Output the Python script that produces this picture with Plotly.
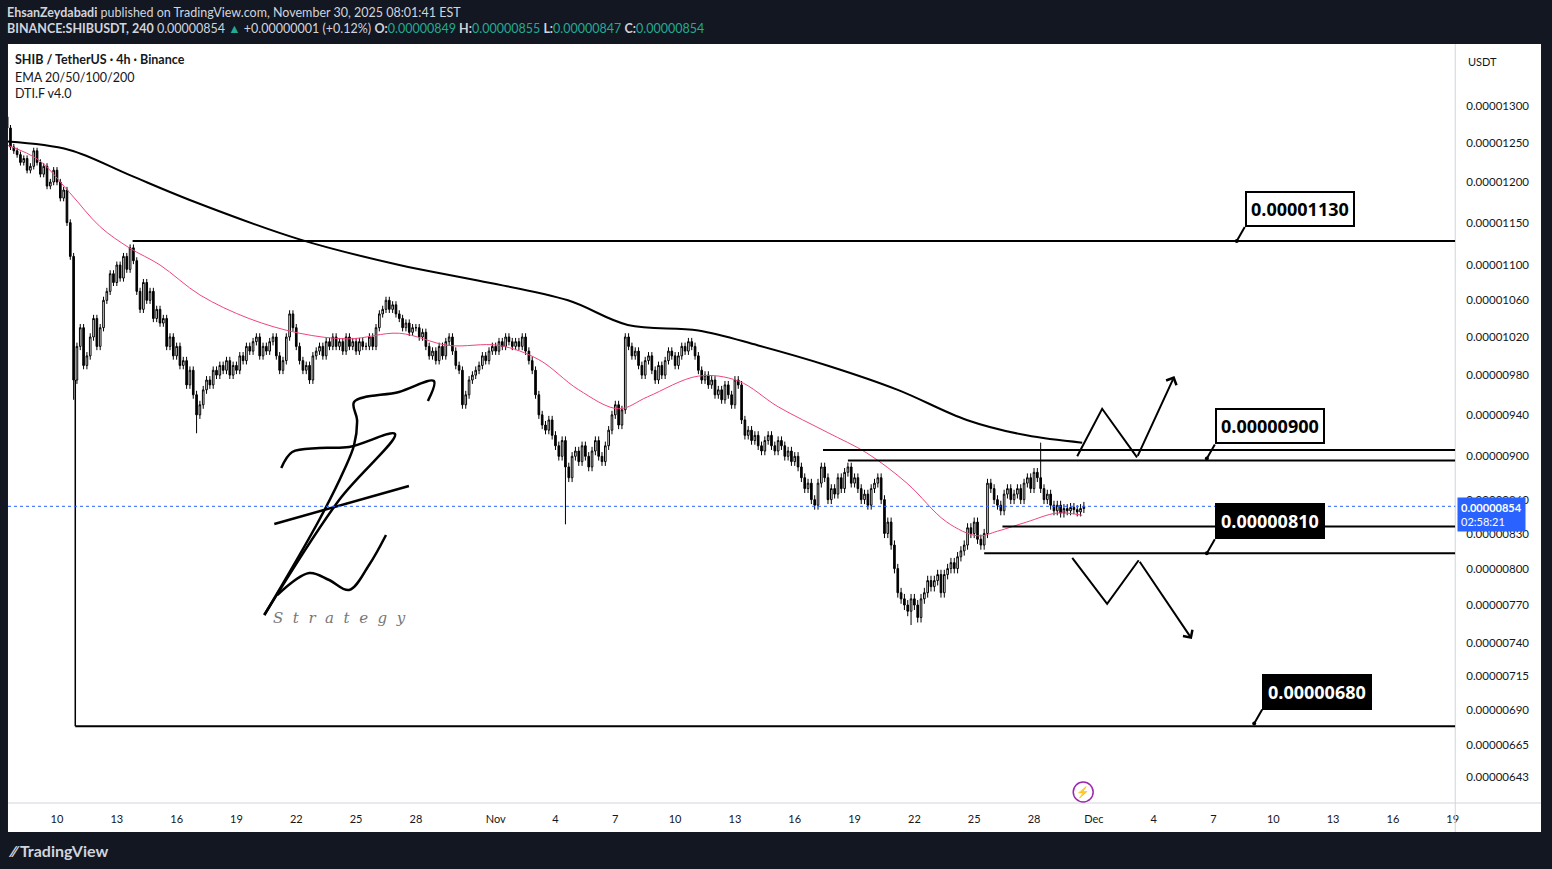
import plotly.graph_objects as go
import pandas as pd
import math

# ---------------- data (prices in units of 1e-8 USDT) ----------------
closes = [
 1270,1245,1240,
 1235,1225,1230,1215,1220,1240,
 1225,1210,1220,1195,1200,1215,
 1200,1180,1190,1150,1110,975,
 1010,1030,990,1000,1020,1040,
 1010,1030,1060,1070,1090,1080,
 1100,1085,1110,1095,1120,1105,
 1070,1050,1080,1060,1070,1040,
 1050,1035,1040,1010,1020,1000,
 1010,990,995,970,985,960,
 940,950,965,975,970,985,
 980,990,985,995,980,990,
 985,1000,995,1010,1005,1015,
 1020,1000,1010,1005,1015,1020,
 1000,985,995,1020,1045,1030,
 1010,995,985,990,975,1000,
 1005,1010,1000,1015,1010,1020,
 1010,1015,1005,1020,1010,1015,
 1005,1015,1010,1010,1020,1010,
 1030,1045,1050,1060,1050,1055,
 1045,1040,1030,1035,1025,1030,
 1030,1020,1025,1010,1000,1005,
 995,1010,1000,1015,1020,1005,
 990,985,950,960,975,980,
 985,990,1000,995,1005,1010,
 1005,1015,1010,1020,1015,1010,
 1015,1010,1020,1005,995,985,
 960,940,930,925,935,920,
 910,900,915,890,880,900,
 905,895,910,900,890,905,
 915,900,895,910,925,940,
 950,930,945,1020,1010,1000,
 1005,990,980,995,1000,985,
 975,990,980,995,1005,1000,
 990,1000,1010,1005,1015,1010,
 1000,985,975,980,970,975,
 960,965,955,970,960,950,
 975,970,935,920,925,915,
 920,910,905,915,920,910,
 905,915,910,900,905,895,
 900,890,880,870,875,860,
 855,875,890,880,860,870,
 865,880,870,885,890,875,
 880,870,860,865,855,870,
 875,880,860,830,840,820,
 800,780,775,770,765,775,
 770,760,775,780,790,785,
 790,795,780,795,800,805,
 800,810,815,820,835,830,
 840,825,820,830,875,870,
 860,855,850,865,870,860,
 865,870,860,875,880,870,
 885,880,870,860,865,855,
 850,855,848,852,850,853,
 851,849,852,854,
]
first_open = 1285
wick_overrides = {20: (None, 955), 57: (None, 922), 168: (None, 838), 272: (None, 754), 311: (913, None)}

ema_slow_dates = ["2025-10-07 13:00","2025-10-10 15:00","2025-10-13 15:00","2025-10-16 15:00","2025-10-22 04:00",
                  "2025-10-27 04:00","2025-10-31 04:00","2025-11-04 15:00","2025-11-07 15:00","2025-11-11 04:00",
                  "2025-11-14 04:00","2025-11-17 15:00","2025-11-21 04:00","2025-11-24 15:00","2025-11-27 15:00","2025-11-30 10:00"]
ema_slow_vals = [1252,1241,1209,1178,1130,1100,1082,1060,1033,1027,1011,990,965,935,920,913]

ema_fast_dates = ["2025-10-07 13:00","2025-10-09 02:00","2025-10-10 15:00","2025-10-12 04:00","2025-10-13 15:00","2025-10-15 04:00",
                  "2025-10-17 04:00","2025-10-19 15:00","2025-10-22 04:00","2025-10-24 15:00","2025-10-27 04:00","2025-10-29 15:00",
                  "2025-11-01 04:00","2025-11-03 04:00","2025-11-05 04:00","2025-11-07 04:00","2025-11-08 15:00","2025-11-11 04:00",
                  "2025-11-13 04:00","2025-11-15 04:00","2025-11-17 15:00","2025-11-19 15:00","2025-11-21 15:00","2025-11-23 15:00",
                  "2025-11-25 04:00","2025-11-26 04:00","2025-11-27 15:00","2025-11-29 04:00","2025-11-30 10:00"]
ema_fast_vals = [1247,1228,1187,1145,1120,1100,1066,1040,1024,1018,1024,1011,1011,996,965,946,958,979,
                 974,948,923,903,875,840,828,832,840,848,846]

levels = [1128, 906, 896, 836, 813, 678]
level_starts = ["2025-10-13 19:00","2025-11-17 10:00","2025-11-18 16:00","2025-11-26 10:00","2025-11-25 12:00","2025-10-10 22:00"]

callout_texts = ["0.00001130", "0.00000900", "0.00000810", "0.00000680"]
callout_points = [("2025-12-08 04:00",1128), ("2025-12-06 16:00",898), ("2025-12-06 16:00",813), ("2025-12-09 01:00",680)]
callout_dark = [False, False, True, True]

zig_up_dates = ["2025-11-30 04:00","2025-12-01 10:00","2025-12-03 04:00","2025-12-05 01:00"]
zig_up_vals = [900,946,899,979]
zig_dn_dates = ["2025-11-29 22:00","2025-12-01 16:00","2025-12-03 06:00","2025-12-05 22:00"]
zig_dn_vals = [809,771,807,743]

ytick_vals = [1300,1250,1200,1150,1100,1060,1020,980,940,900,860,830,800,770,740,715,690,665,643]
xtick_dates = ["2025-10-10","2025-10-13","2025-10-16","2025-10-19","2025-10-22","2025-10-25","2025-10-28","2025-11-01",
               "2025-11-04","2025-11-07","2025-11-10","2025-11-13","2025-11-16","2025-11-19","2025-11-22","2025-11-25",
               "2025-11-28","2025-12-01","2025-12-04","2025-12-07","2025-12-10","2025-12-13","2025-12-16","2025-12-19"]
xtick_text = ["10","13","16","19","22","25","28","Nov","4","7","10","13","16","19","22","25","28","Dec","4","7","10","13","16","19"]

# ---------------- build ----------------
S = 1e-8
def L(v): return math.log10(v * S)
times = pd.date_range("2025-10-07 12:00", periods=len(closes), freq="4h")
opens = [first_open] + closes[:-1]
highs, lows = [], []
for i, (o, c) in enumerate(zip(opens, closes)):
    h, l = max(o, c) + 4, min(o, c) - 4
    if i in wick_overrides:
        oh, ol = wick_overrides[i]
        h = oh if oh else h
        l = ol if ol else l
    highs.append(h); lows.append(l)

W, H = 1552, 869
def px(x): return x / W
def py(y): return 1 - y / H

fig = go.Figure()
fig.add_trace(go.Candlestick(x=times, open=[v*S for v in opens], high=[v*S for v in highs],
                             low=[v*S for v in lows], close=[v*S for v in closes],
                             increasing=dict(line=dict(color="black", width=1), fillcolor="white"),
                             decreasing=dict(line=dict(color="black", width=1), fillcolor="black"),
                             whiskerwidth=0, showlegend=False, hoverinfo="skip"))
fig.add_trace(go.Scatter(x=pd.to_datetime(ema_slow_dates), y=[v*S for v in ema_slow_vals], mode="lines",
                         line=dict(color="black", width=2, shape="spline"), showlegend=False))
fig.add_trace(go.Scatter(x=pd.to_datetime(ema_fast_dates), y=[v*S for v in ema_fast_vals], mode="lines",
                         line=dict(color="#f0457a", width=1, shape="spline"), showlegend=False))
for d, v in ((zig_up_dates, zig_up_vals), (zig_dn_dates, zig_dn_vals)):
    fig.add_trace(go.Scatter(x=pd.to_datetime(d[:-1]), y=[q*S for q in v[:-1]], mode="lines",
                             line=dict(color="black", width=2), showlegend=False))

xend = pd.Timestamp("2025-12-19 03:00")
shapes = []
shapes.append(dict(type="rect", xref="paper", yref="paper", x0=px(8), x1=px(1545), y0=py(832), y1=py(44),
                   fillcolor="white", line=dict(width=0), layer="below"))
shapes.append(dict(type="line", xref="paper", yref="paper", x0=px(1459), x1=px(1459), y0=py(832), y1=py(44),
                   line=dict(color="#d1d4dc", width=1)))
shapes.append(dict(type="line", xref="paper", yref="paper", x0=px(8), x1=px(1545), y0=py(803), y1=py(803),
                   line=dict(color="#d1d4dc", width=1)))
shapes.append(dict(type="circle", xref="paper", yref="paper", x0=px(1076), x1=px(1096), y0=py(802), y1=py(782),
                   line=dict(color="#9c27b0", width=1.5), fillcolor="white"))
for lv, st in zip(levels, level_starts):
    shapes.append(dict(type="line", xref="x", yref="y", x0=pd.Timestamp(st), x1=xend, y0=lv*S, y1=lv*S,
                       line=dict(color="black", width=2)))
shapes.append(dict(type="line", xref="x", yref="y", x0=pd.Timestamp(level_starts[-1]), x1=pd.Timestamp(level_starts[-1]),
                   y0=levels[-1]*S, y1=975*S, line=dict(color="black", width=1.5)))
shapes.append(dict(type="line", xref="paper", yref="y", x0=px(8), x1=px(1459), y0=closes[-1]*S, y1=closes[-1]*S,
                   line=dict(color="#2962ff", width=1, dash="dot")))
fig.update_layout(shapes=shapes)

ann = []
for t, (d, v), dark in zip(callout_texts, callout_points, callout_dark):
    ann.append(dict(x=pd.Timestamp(d), y=L(v), xref="x", yref="y", text="<b>%s</b>" % t, showarrow=True,
                    arrowhead=6, arrowsize=0.5, arrowwidth=2, arrowcolor="black", ax=8, ay=-14,
                    xanchor="left", yanchor="bottom",
                    font=dict(size=18, color="white" if dark else "black", family="Open Sans"),
                    bgcolor="black" if dark else "white", bordercolor="black", borderwidth=2, borderpad=4))
for d, v in ((zig_up_dates, zig_up_vals), (zig_dn_dates, zig_dn_vals)):
    ann.append(dict(x=pd.Timestamp(d[-1]), y=L(v[-1]), ax=pd.Timestamp(d[-2]), ay=L(v[-2]),
                    axref="x", ayref="y", xref="x", yref="y", showarrow=True, arrowhead=4, arrowwidth=2,
                    arrowsize=1.1, arrowcolor="black", text=""))

def txt(x, y, s, size=12, color="white", anchor="left", family="Lato"):
    ann.append(dict(x=px(x), y=py(y), xref="paper", yref="paper", text=s,
                    showarrow=False, xanchor=anchor, yanchor="middle", font=dict(size=size, color=color, family=family)))

g = "#22ab94"
txt(5, 12, "<b>EhsanZeydabadi</b> published on TradingView.com, November 30, 2025 08:01:41 EST", 12.5, "#d1d4dc")
txt(5, 29, "<b>BINANCE:SHIBUSDT, 240</b> 0.00000854 <span style='color:%s'>▲</span> +0.00000001 (+0.12%%) <b>O:</b><span style='color:%s'>0.00000849</span> <b>H:</b><span style='color:%s'>0.00000855</span> <b>L:</b><span style='color:%s'>0.00000847</span> <b>C:</b><span style='color:%s'>0.00000854</span>" % (g, g, g, g, g), 12.5, "#d1d4dc")
txt(13, 60, "<b>SHIB / TetherUS · 4h · Binance</b>", 12.5, "#131722")
txt(13, 77, "EMA 20/50/100/200", 12.5, "#131722")
txt(13, 94, "DTI.F v4.0", 12.5, "#131722")
txt(1486, 61, "USDT", 11, "#131722", "center")
ann.append(dict(x=px(1461), y=py(514), xref="paper", yref="paper", showarrow=False, xanchor="left", yanchor="middle",
                text="<b>0.00000854</b><br>02:58:21", bgcolor="#2962ff", font=dict(size=11, color="white", family="Lato"),
                align="left", borderpad=3))
txt(6, 850, "<b>⁄⁄ TradingView</b>", 16, "#d1d4dc")
txt(272, 618, "<i>S  t  r  a  t  e  g  y</i>", 15, "#777", family="DejaVu Serif")
txt(1086, 792, "⚡", 11, "#9c27b0", "center")
fig.update_layout(annotations=ann)

logo = [
    [(429,401),(435,381),(400,392),(355,402),(358,420),(355,445),(345,470),(320,520),(265,615)],
    [(282,468),(293,452),(320,448),(350,447),(396,434),(340,500),(265,615)],
    [(275,524),(410,486)],
    [(278,595),(310,573),(330,580),(350,590),(370,565),(387,535)],
]
for s in logo:
    fig.add_trace(go.Scatter(x=[px(a) for a, b in s], y=[py(b) for a, b in s], xaxis="x2", yaxis="y2", mode="lines",
                             line=dict(color="black", width=2.5, shape="spline"), showlegend=False, hoverinfo="skip"))

fig.update_layout(
    width=W, height=H, margin=dict(l=0, r=0, t=0, b=0),
    paper_bgcolor="#131722", plot_bgcolor="rgba(0,0,0,0)",
    xaxis=dict(domain=[px(8), px(1459)], range=[pd.Timestamp("2025-10-07 13:00"), xend], rangeslider=dict(visible=False),
               tickvals=pd.to_datetime(xtick_dates), ticktext=xtick_text, showgrid=False, zeroline=False,
               tickfont=dict(size=11, color="#131722", family="Lato"), ticks="", showline=False, ticklabelstandoff=8),
    yaxis=dict(domain=[py(803), py(44)], type="log", side="right",
               range=[math.log10(625.6*S), math.log10(1387*S)], tickvals=[v*S for v in ytick_vals],
               ticktext=["0.%08d" % v for v in ytick_vals], showgrid=False, zeroline=False,
               tickfont=dict(size=11.5, color="#131722", family="Lato"), ticks="", ticklabelstandoff=10),
    xaxis2=dict(domain=[0, 1], range=[0, 1], visible=False, anchor="y2"),
    yaxis2=dict(domain=[0, 1], range=[0, 1], visible=False, anchor="x2"),
    hovermode=False,
)
fig.write_html("out.html", config={"displayModeBar": False},
               post_script="document.body.style.margin='0';document.body.style.overflow='hidden';")
